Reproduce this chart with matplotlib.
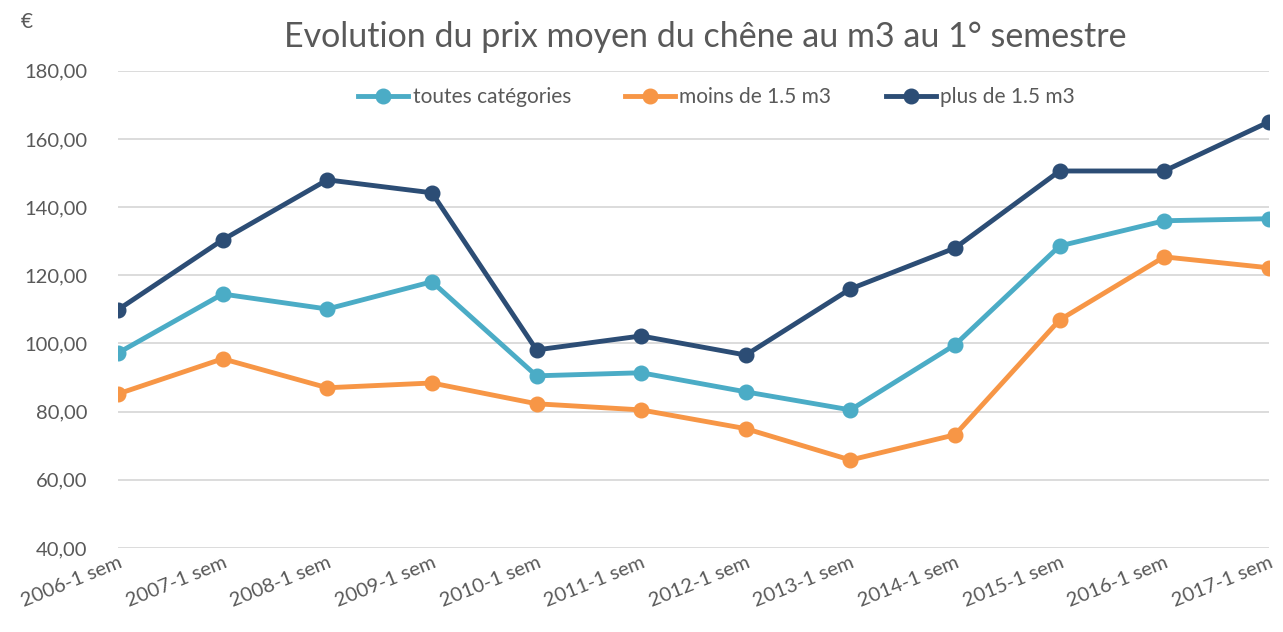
import matplotlib
matplotlib.use('Agg')
import matplotlib.pyplot as plt

## 데이터
categories = ['2006-1 sem', '2007-1 sem', '2008-1 sem', '2009-1 sem', '2010-1 sem', '2011-1 sem',
              '2012-1 sem', '2013-1 sem', '2014-1 sem', '2015-1 sem', '2016-1 sem', '2017-1 sem']
toutes = [97.2, 114.5, 110.1, 118.1, 90.5, 91.4, 85.8, 80.5, 99.6, 128.6, 136.0, 136.6]
moins = [85.2, 95.5, 87.0, 88.4, 82.3, 80.5, 75.0, 65.8, 73.2, 106.9, 125.4, 122.2]
plus = [109.9, 130.4, 148.0, 144.2, 98.1, 102.2, 96.6, 116.0, 128.0, 150.6, 150.6, 165.0]
yticks = [40, 60, 80, 100, 120, 140, 160, 180]

plt.rcParams['font.family'] = ['Lato', 'DejaVu Sans']
text_color = '#595959'

fig = plt.figure(figsize=(12.83, 6.32), dpi=100)
ax = fig.add_axes([0.092, 0.133, 0.897, 0.755])

x = list(range(len(categories)))
ax.plot(x, toutes, color='#4BACC6', lw=3.5, marker='o', ms=10.5, label='toutes catégories')
ax.plot(x, moins, color='#F79646', lw=3.5, marker='o', ms=10.5, label='moins de 1.5 m3')
ax.plot(x, plus, color='#2C4D75', lw=3.5, marker='o', ms=10.5, label='plus de 1.5 m3')

ax.set_xlim(0, len(categories) - 1)
ax.set_ylim(40, 180)
ax.set_yticks(yticks)
ax.set_yticklabels(['%d,00' % v for v in yticks])
ax.set_xticks(x)
ax.set_xticklabels(categories, rotation=22, ha='right', rotation_mode='anchor')

ax.grid(axis='y', color='#D9D9D9', lw=1.3)
ax.set_axisbelow(True)
for s in ax.spines.values():
    s.set_visible(False)
ax.tick_params(axis='both', length=0, labelsize=14.5, colors=text_color)
ax.tick_params(axis='y', pad=22)
ax.tick_params(axis='x', pad=4)
for lab in ax.get_xticklabels():
    lab.set_clip_on(False)

fig.text(0.55, 0.942, 'Evolution du prix moyen du chêne au m3 au 1° semestre',
         ha='center', va='center', fontsize=24.5, color=text_color)
fig.text(0.021, 0.965, '€', ha='center', va='center', fontsize=15, color=text_color)

leg = ax.legend(loc='upper center', bbox_to_anchor=(0.52, 1.005), ncol=3, frameon=False,
                fontsize=15, handlelength=2.4, handletextpad=0.2, columnspacing=2.6,
                labelcolor=text_color)

fig.savefig('out.png', dpi=100)
